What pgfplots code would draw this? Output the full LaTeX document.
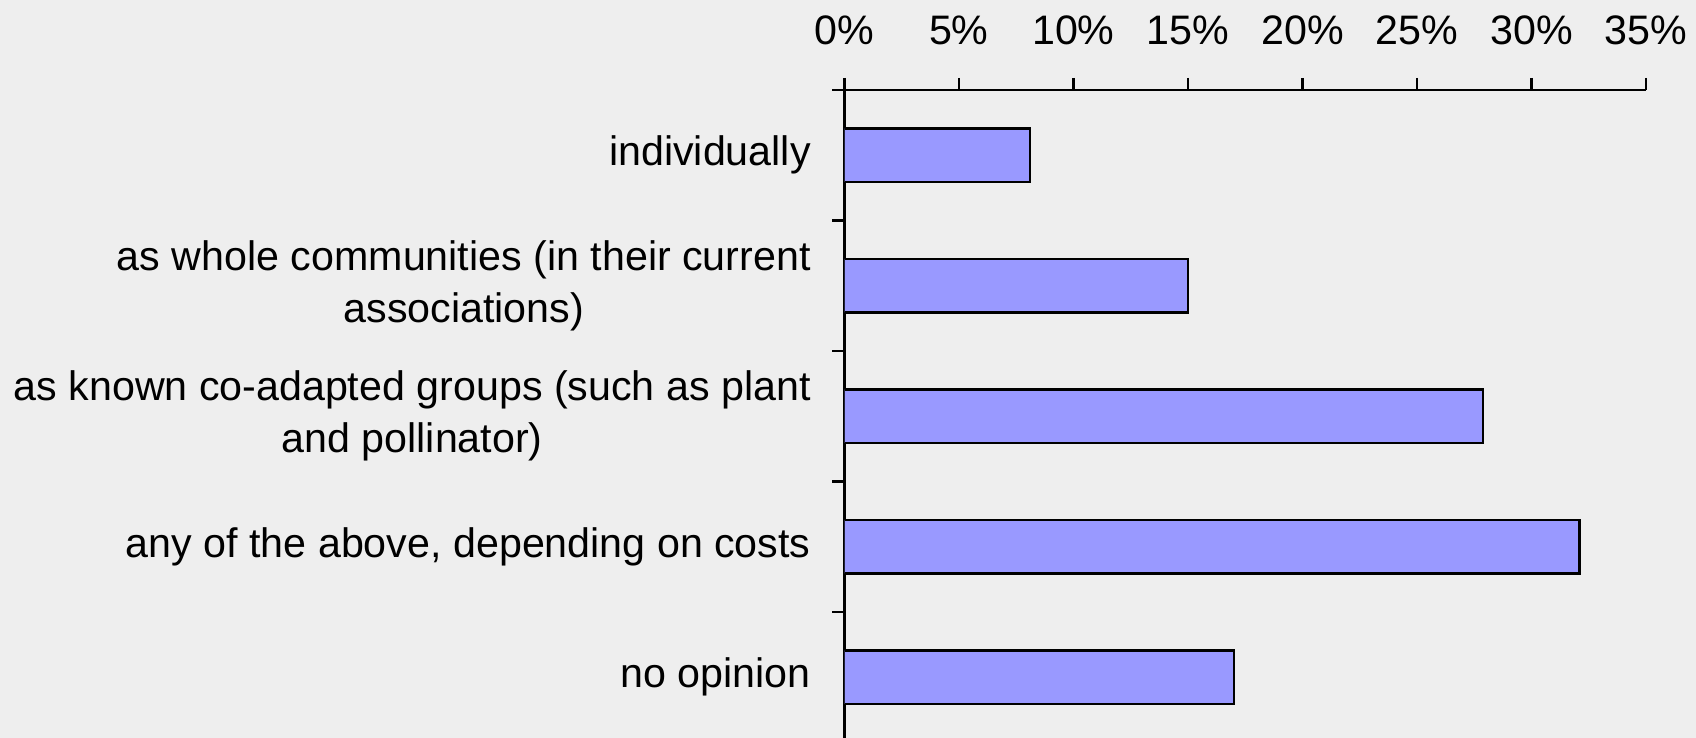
\documentclass[border=0pt]{standalone}
\usepackage{fontspec}
\setmainfont{Liberation Sans}
\usepackage{pgfplots}
\pgfplotsset{compat=1.18}
\definecolor{bgc}{RGB}{238,238,238}
\definecolor{barc}{RGB}{153,153,255}
\newcommand{\lblfont}{\fontsize{20.6bp}{26bp}\selectfont}
\begin{document}
\begin{tikzpicture}
\useasboundingbox (0,0) rectangle (848bp,369bp);
\fill[bgc] (0,0) rectangle (848bp,369bp);
\begin{axis}[
    at={(422.15bp,324bp)}, anchor=north west,
    scale only axis,
    width=400.85bp, height=326.25bp,
    xmin=0, xmax=35,
    ymin=-0.5, ymax=4.5,
    axis x line*=top,
    axis y line*=left,
    axis line style={line width=1.2bp},
    tick align=outside,
    major tick length=6bp,
    tick style={line width=1.2bp, black},
    xtick={0,5,...,35},
    xticklabels={0\%,5\%,10\%,15\%,20\%,25\%,30\%,35\%},
    xticklabel pos=upper,
    xticklabel style={font=\lblfont, anchor=base, yshift=16.8bp},
    ytick={-0.5,0.5,1.5,2.5,3.5,4.5},
    yticklabels={},
    extra y ticks={0,1,2,3,4},
    extra y tick labels={
        {no opinion},
        {any of the above, depending on costs},
        {as known co-adapted groups (such as plant\\and pollinator)},
        {as whole communities (in their current\\associations)},
        {individually}},
    extra y tick style={major tick length=0pt,
        yticklabel style={font=\lblfont, align=center, anchor=east, xshift=-16.6bp, inner sep=0pt}},
    xbar,
    bar width=0.41,
]
\addplot[fill=barc, draw=black, line width=1.1bp] coordinates {
    (17.0,0) (32.1,1) (27.9,2) (15.0,3) (8.1,4)
};
\end{axis}
\end{tikzpicture}
\end{document}
